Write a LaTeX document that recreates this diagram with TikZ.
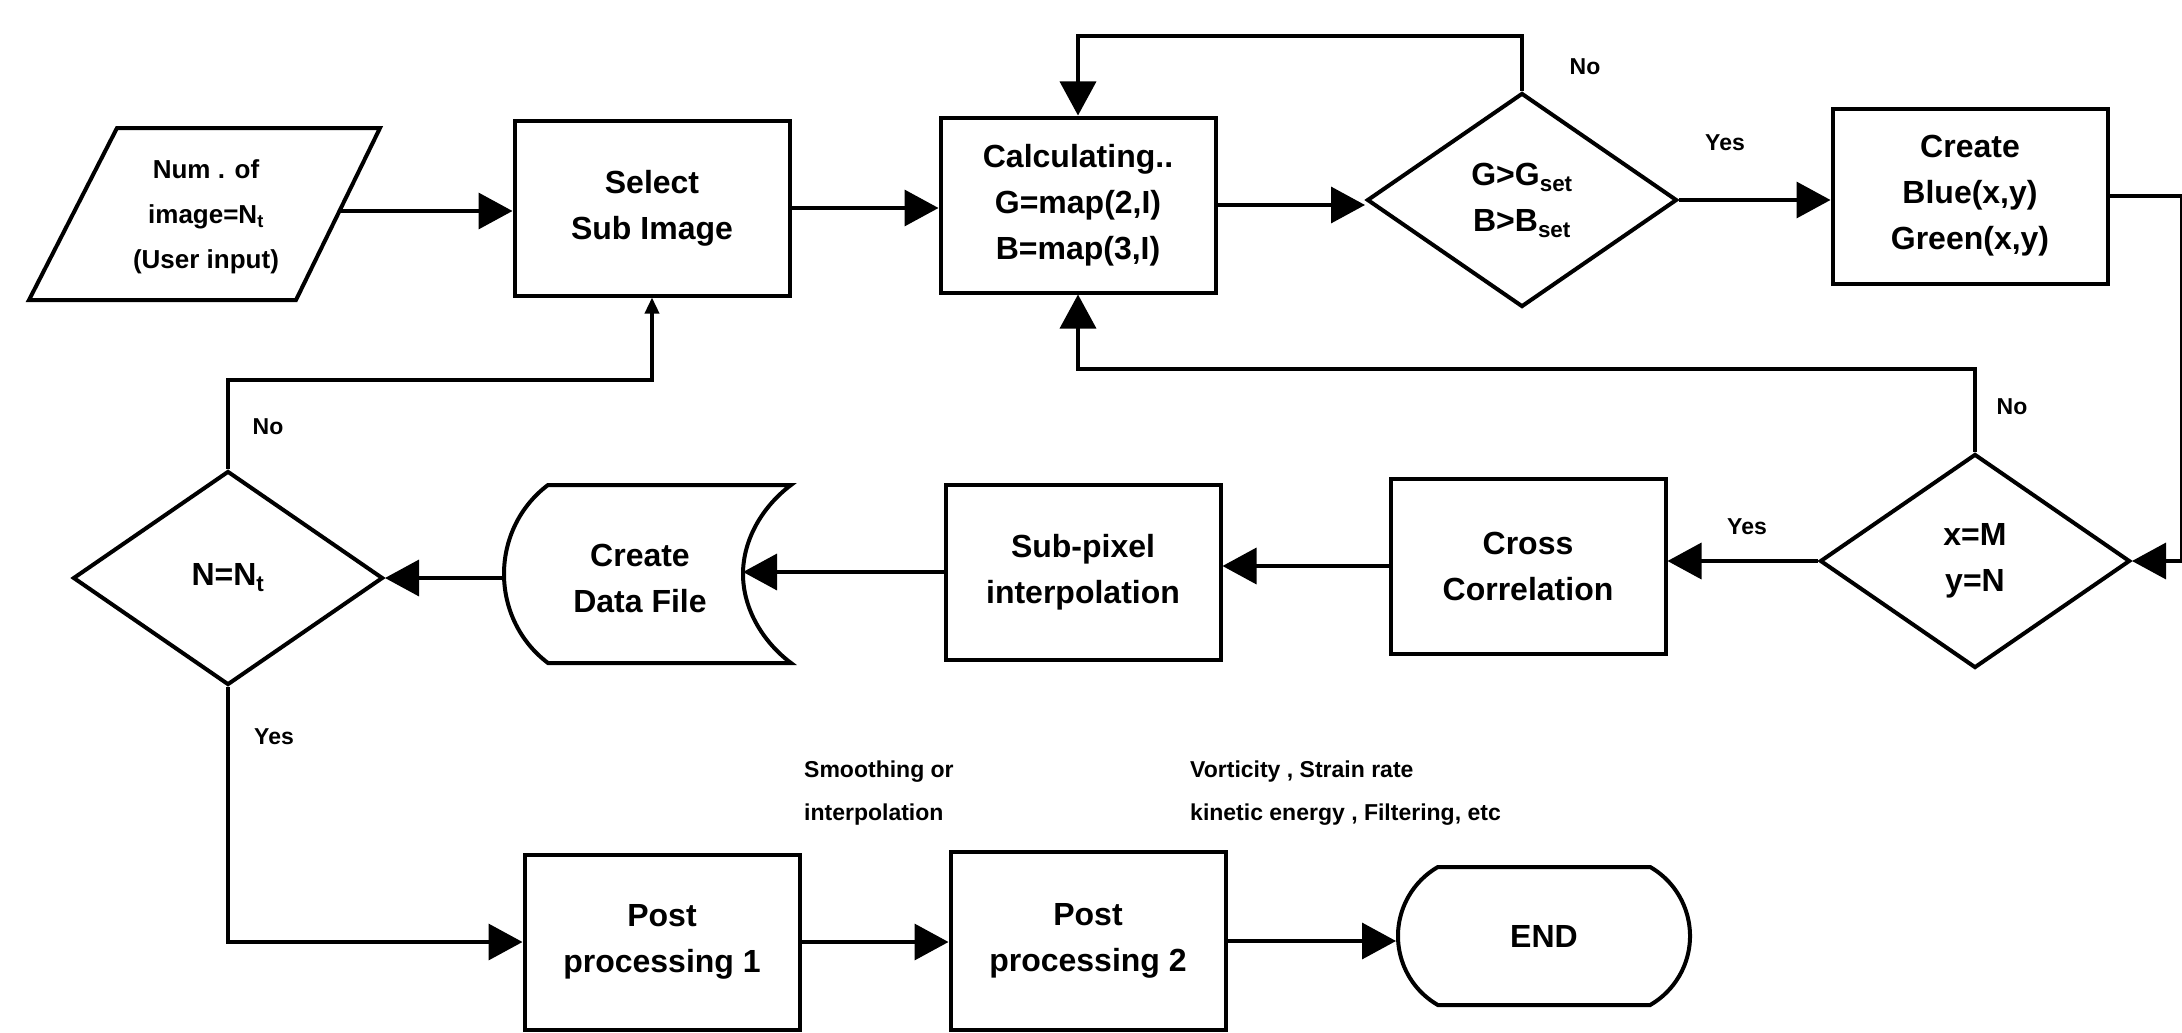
\documentclass[tikz,border=0pt]{standalone}
\usepackage{fontspec}
\setmainfont{Liberation Sans}
\usetikzlibrary{arrows.meta,shapes.geometric,shapes.misc}
\begin{document}
\begin{tikzpicture}[x=1pt,y=-1pt,
  txt/.style={font=\bfseries\fontsize{32}{46}\selectfont, align=center, inner sep=0pt},
  box/.style={txt, draw, line width=4pt, minimum width=275pt, minimum height=175pt},
  dec/.style={txt, draw, diamond, line width=4pt, minimum width=310pt, minimum height=214pt, shape aspect=1.45},
  endbox/.style={txt, draw, line width=4pt, rounded rectangle, rounded rectangle arc length=120, minimum width=292pt, minimum height=138pt},
  shp/.style={line width=4pt},
  conn/.style={line width=3.5pt},
  arr/.style={conn, -{Triangle[length=34pt,width=36pt]}},
  sarr/.style={conn, -{Triangle[length=16pt,width=14pt]}},
  lbl/.style={font=\bfseries\fontsize{23}{26}\selectfont, inner sep=0pt},
  ann/.style={font=\bfseries\fontsize{23}{26}\selectfont, inner sep=0pt, anchor=west}]
\useasboundingbox (0,0) rectangle (2182,1033);
% parallelogram input
\draw[shp] (117,128) -- (380,128) -- (296,300) -- (29,300) -- cycle;
\node[txt, font=\bfseries\fontsize{26}{45}\selectfont] (par) at (206,217) {Num . of\\image=N\textsubscript{t}\\(User input)};
\coordinate (parR) at (338,211);
% row 1
\node[box] (sel) at (652,208) {Select\\Sub Image};
\node[box] (calc) at (1078,205) {Calculating..\\G=map(2,I)\\B=map(3,I)};
\node[dec] (d1) at (1522,200) {G>G\textsubscript{set}\\B>B\textsubscript{set}};
\node[box] (cre) at (1970,196) {Create\\Blue(x,y)\\Green(x,y)};
% row 2
\node[dec] (d2) at (1975,561) {x=M\\y=N};
\node[box] (cross) at (1528,566) {Cross\\Correlation};
\node[box] (sub) at (1083,572) {Sub-pixel\\interpolation};
\draw[shp] (548,485) -- (791,485) .. controls (763,506) and (743,539) .. (743,574) .. controls (743,609) and (763,642) .. (791,663) -- (548,663) .. controls (520,642) and (504,609) .. (504,574) .. controls (504,539) and (520,506) .. (548,485) -- cycle;
\node[txt] (df) at (640,578) {Create\\Data File};
\coordinate (dfL) at (504,578);
\coordinate (dfR) at (743,572);
\node[dec] (d3) at (228,578) {N=N\textsubscript{t}};
% row 3
\node[box] (pp1) at (662,942) {Post\\processing 1};
\node[box, minimum height=178pt] (pp2) at (1088,941) {Post\\processing 2};
\node[endbox] (end) at (1544,936) {END};
% connectors
\draw[arr] (parR) -- (parR -| sel.west);
\draw[arr] (sel.east) -- (sel.east -| calc.west);
\draw[arr] (calc.east) -- (calc.east -| d1.west);
\draw[arr] (d1.east) -- (d1.east -| cre.west);
\draw[arr] (d1.north) -- ++(0,-55) -| (calc.north);
\draw[arr] (cre.east) -- ++(72,0) |- (d2.east);
\draw[arr] (d2.north) -- ++(0,-83) -| (calc.south);
\draw[arr] (d2.west) -- (d2.west -| cross.east);
\draw[arr] (cross.west) -- (cross.west -| sub.east);
\draw[arr] (sub.west) -- (dfR);
\draw[arr] (dfL) -- (dfL -| d3.east);
\draw[sarr] (d3.north) -- ++(0,-89) -| (sel.south);
\draw[arr] (d3.south) |- (pp1.west);
\draw[arr] (pp1.east) -- (pp1.east -| pp2.west);
\draw[arr] (pp2.east) -- (pp2.east -| end.west);
% labels
\node[lbl] (no1) at (1585,67) {No};
\node[lbl] (yes1) at (1725,143) {Yes};
\node[lbl] (no2) at (2012,407) {No};
\node[lbl] (yes2) at (1747,527) {Yes};
\node[lbl] (no3) at (268,427) {No};
\node[lbl] (yes3) at (274,737) {Yes};
% annotations
\node[ann] (a1) at (804,772) {Smoothing or};
\node[ann] (a2) at (804,815) {interpolation};
\node[ann] (a3) at (1190,772) {Vorticity , Strain rate};
\node[ann] (a4) at (1190,815) {kinetic energy , Filtering, etc};
\end{tikzpicture}
\end{document}
